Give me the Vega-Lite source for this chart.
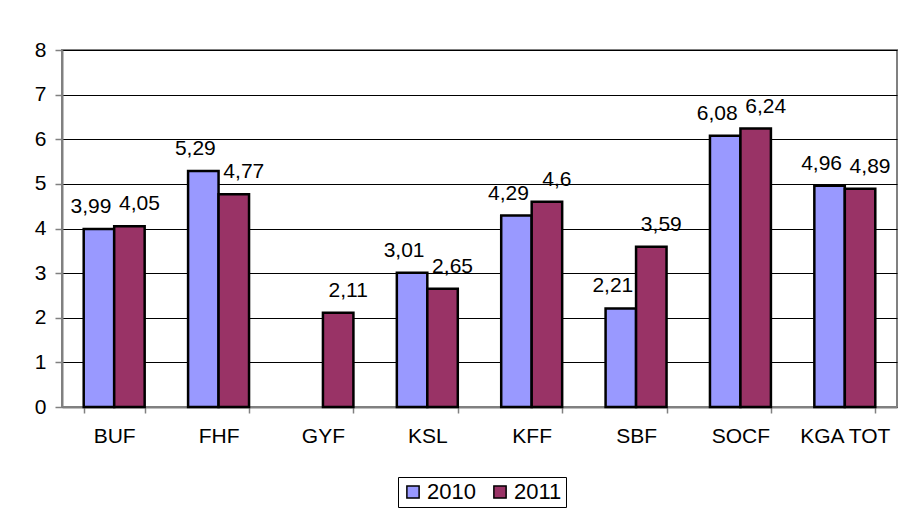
{
  "$schema": "https://vega.github.io/schema/vega-lite/v6.json",
  "autosize": {"type": "none"},
  "padding": {"left": 62, "top": 50, "right": 8, "bottom": 104},
  "width": 835,
  "height": 357,
  "background": "white",
  "config": {
    "locale": {"number": {"decimal": ",", "thousands": ".", "grouping": [3], "currency": ["", ""]}},
    "font": "Liberation Sans",
    "view": {"stroke": "#808080", "strokeWidth": 2},
    "axis": {"labelFont": "Liberation Sans", "labelColor": "#000", "labelFontSize": 21, "domainColor": "#808080", "domainWidth": 2, "tickColor": "#808080", "tickWidth": 1.5}
  },
  "data": {
    "values": [
      {"cat": "BUF", "year": "2010", "value": 3.99},
      {"cat": "BUF", "year": "2011", "value": 4.05},
      {"cat": "FHF", "year": "2010", "value": 5.29},
      {"cat": "FHF", "year": "2011", "value": 4.77},
      {"cat": "GYF", "year": "2011", "value": 2.11},
      {"cat": "KSL", "year": "2010", "value": 3.01},
      {"cat": "KSL", "year": "2011", "value": 2.65},
      {"cat": "KFF", "year": "2010", "value": 4.29},
      {"cat": "KFF", "year": "2011", "value": 4.6},
      {"cat": "SBF", "year": "2010", "value": 2.21},
      {"cat": "SBF", "year": "2011", "value": 3.59},
      {"cat": "SOCF", "year": "2010", "value": 6.08},
      {"cat": "SOCF", "year": "2011", "value": 6.24},
      {"cat": "KGA TOT", "year": "2010", "value": 4.96},
      {"cat": "KGA TOT", "year": "2011", "value": 4.89}
    ]
  },
  "encoding": {
    "x": {
      "field": "cat", "type": "nominal", "sort": null,
      "scale": {"domain": ["BUF", "FHF", "GYF", "KSL", "KFF", "SBF", "SOCF", "KGA TOT"], "paddingInner": 0.416, "paddingOuter": 0.208},
      "axis": {"title": null, "labelAngle": 0, "tickBand": "extent", "tickSize": 6, "labelPadding": 12, "domainWidth": 2, "labelFontSize": 21}
    },
    "xOffset": {"field": "year", "type": "nominal", "scale": {"domain": ["2010", "2011"], "paddingInner": 0, "paddingOuter": 0}},
    "y": {
      "field": "value", "type": "quantitative",
      "scale": {"domain": [0, 8], "nice": false},
      "axis": {"title": null, "values": [0,1,2,3,4,5,6,7,8], "labelOverlap": false, "gridColor": "#000", "gridWidth": 1, "gridOpacity": 1, "tickSize": 7, "labelPadding": 9, "format": "d", "labelFontSize": 21}
    }
  },
  "layer": [
    {
      "mark": {"type": "bar", "stroke": "#000", "strokeWidth": 2.5},
      "encoding": {
        "color": {
          "field": "year", "type": "nominal",
          "scale": {"domain": ["2010", "2011"], "range": ["#9999FF", "#993366"]},
          "legend": {
            "title": null, "orient": "none", "direction": "horizontal",
            "legendX": 336, "legendY": 427,
            "strokeColor": "#000", "padding": 4, "fillColor": "white",
            "symbolType": "square", "symbolSize": 150, "symbolStrokeColor": "#000", "symbolStrokeWidth": 1.5,
            "labelFontSize": 22, "labelFont": "Liberation Sans", "labelColor": "#000", "labelOffset": 3, "columnPadding": 13
          }
        }
      }
    },
    {
      "transform": [{"filter": "datum.year === '2010'"}],
      "mark": {"type": "text", "baseline": "alphabetic", "dy": -16, "dx": -8, "fontSize": 21, "font": "Liberation Sans", "color": "#000"},
      "encoding": {"text": {"field": "value", "type": "quantitative", "format": ".3~g"}}
    },
    {
      "transform": [{"filter": "datum.year === '2011'"}],
      "mark": {"type": "text", "baseline": "alphabetic", "dy": -16, "dx": 10, "fontSize": 21, "font": "Liberation Sans", "color": "#000"},
      "encoding": {"text": {"field": "value", "type": "quantitative", "format": ".3~g"}}
    }
  ]
}
